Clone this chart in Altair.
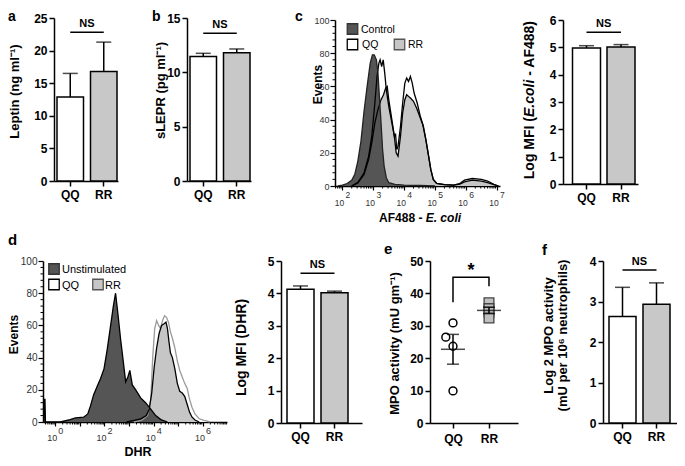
import altair as alt
import numpy as np
import pandas as pd

FONT = "Liberation Sans"
GROUPS = ["QQ", "RR"]
BAR_FILL = ["#ffffff", "#c8c8c8"]
DARK = "#555555"
LIGHT = "#c6c6c6"
OFF = 8            # page margin: absolute page px -> plot px
CW, CH = 669, 450  # one shared drawing area

# ---------------- data ----------------
leptin_mean = [12.9, 16.8]
leptin_err = [3.6, 4.5]
leptin_ns = 22.8
slepr_mean = [11.45, 11.8]
slepr_err = [0.3, 0.35]
slepr_ns = 13.6
ecoli_mean = [4.98, 5.01]
ecoli_err = [0.08, 0.09]
ecoli_ns = 5.55
dhr_mean = [4.13, 4.02]
dhr_err = [0.10, 0.05]
dhr_ns = 4.62
mpo_qq = [30.9, 26.5, 23.7, 9.9]
mpo_qq_jitter = [0.0, -0.2, 0.0, 0.0]
mpo_rr = [37.1, 35.3, 34.2, 32.4]
mpo_rr_jitter = [0.0, 0.0, 0.0, 0.0]
mpo_mean = [22.75, 34.75]
mpo_sem = [4.6, 1.0]
bracket_x = [0, 0, 1, 1]
bracket_y = [37.3, 45.0, 45.0, 42.2]
mpo_log_mean = [2.63, 2.93]
mpo_log_err = [0.72, 0.53]
mpo_log_ns = 3.78

c_ctrl_L = [1.85, 2.0, 2.15, 2.3, 2.4, 2.5, 2.6, 2.7, 2.8, 2.9, 2.97, 3.03, 3.1, 3.15,
            3.2, 3.25, 3.3, 3.35, 3.42, 3.5, 3.7, 4.0, 4.5, 5.0]
c_ctrl_n = [0, 0.5, 1.5, 3.5, 7, 15, 27, 45, 60, 74, 79, 79, 76, 68,
            53, 38, 22, 12, 5, 2, 1, 0.5, 0.3, 0]
c_qq_L = [2.3, 2.5, 2.7, 2.85, 2.95, 3.05, 3.12, 3.18, 3.22, 3.27, 3.32, 3.37, 3.42, 3.5,
          3.6, 3.68, 3.72, 3.76, 3.8, 3.88, 3.95, 4.02, 4.08, 4.14, 4.2, 4.26, 4.32, 4.42,
          4.52, 4.62, 4.7, 4.78, 4.86, 4.94, 5.05, 5.3, 5.6, 5.8, 5.95, 6.2, 6.5, 6.7, 6.9, 7.05]
c_qq_n = [0, 2, 8, 18, 30, 50, 66, 74, 76, 72, 76, 68, 58, 48,
          38, 30, 31, 22, 24, 36, 50, 62, 65, 63, 66, 62, 56, 50,
          42, 36, 28, 19, 10, 4, 1.5, 0.8, 0.5, 1.5, 3.5, 4.5, 4, 3, 1, 0]
c_rr_L = [2.3, 2.5, 2.7, 2.85, 2.95, 3.05, 3.15, 3.25, 3.33, 3.4, 3.45, 3.5, 3.6, 3.68,
          3.74, 3.8, 3.88, 3.95, 4.02, 4.08, 4.14, 4.2, 4.3, 4.4, 4.5, 4.6, 4.7, 4.78,
          4.86, 4.94, 5.05, 5.3, 5.6, 5.8, 5.95, 6.2, 6.5, 6.7, 6.9, 7.05]
c_rr_n = [0, 2, 7, 16, 26, 38, 46, 52, 55, 59, 60, 52, 40, 30,
          20, 18, 30, 44, 52, 55, 54, 53, 51, 47, 42, 37, 28, 19,
          10, 4, 1.5, 0.8, 0.5, 1.2, 2.5, 3.5, 3, 2, 0.8, 0]

d_un_L = [-0.47, -0.45, -0.42, -0.4, 0.2, 0.6, 0.82, 1.15, 1.32, 1.43, 1.56, 1.7, 1.84,
          1.98, 2.11, 2.25, 2.36, 2.45, 2.54, 2.65, 2.76, 2.86, 2.95, 3.03, 3.13, 3.27,
          3.47, 3.67, 3.88, 4.08, 4.29, 4.56]
d_un_n = [0, 14, 14, 0, 0, 1.5, 2.5, 3, 5, 10, 17, 22, 27,
          33, 45, 60, 72, 80, 68, 52, 38, 25, 28, 32, 23, 20,
          15, 12, 8, 4, 1.5, 0]
d_qq_L = [3.2, 3.5, 3.75, 3.88, 3.96, 4.04, 4.12, 4.2, 4.28, 4.36, 4.44, 4.52, 4.6, 4.68,
          4.76, 4.86, 4.96, 5.06, 5.16, 5.26, 5.36, 5.46, 5.56, 5.68, 5.85, 6.05, 6.3]
d_qq_n = [0, 1, 4, 14, 40, 58, 63, 60, 58, 63, 66, 65, 62, 56,
          52, 46, 38, 32, 28, 24, 21, 14, 9, 5, 2, 1, 0]
d_rr_L = [2.9, 3.2, 3.47, 3.7, 3.82, 3.92, 4.02, 4.12, 4.22, 4.32, 4.42, 4.5, 4.56, 4.62,
          4.68, 4.76, 4.86, 4.96, 5.06, 5.16, 5.26, 5.36, 5.46, 5.56, 5.68, 5.85]
d_rr_n = [0, 1, 2, 4, 8, 18, 34, 46, 55, 60, 61, 62, 58, 50,
          43, 40, 33, 24, 19, 18, 16, 11, 6, 3, 1.2, 0]

hist_y_ticks = [0, 20, 40, 60, 80, 100]


# ---------------- helpers (geometry given in page pixels) ----------------
def text_layer(text, x, y, size=14, weight="bold", align="left", baseline="alphabetic",
               angle=0, style="normal", color="black"):
    return alt.Chart(pd.DataFrame({"t": [text]})).mark_text(
        font=FONT, fontSize=size, fontWeight=weight, fontStyle=style, align=align,
        baseline=baseline, angle=angle, color=color,
    ).encode(text="t:N", x=alt.value(x - OFF), y=alt.value(y - OFF))


def left_axis(values, x0, title=None, tx=0, ty=0, tsize=13, **kw):
    t = dict(title=None)
    if title is not None:
        t = dict(title=title, titleX=tx - x0, titleY=ty - OFF, titleAngle=270,
                 titleBaseline="bottom", titleAlign="center", titleFontSize=tsize)
    return alt.Axis(values=values, orient="left", offset=-(x0 - OFF), grid=False, **t, **kw)


def bottom_axis(yb, **kw):
    return alt.Axis(orient="bottom", offset=(yb - OFF) - CH, grid=False, title=None, **kw)


def bar_panel(means, errs, ns_y, ymax, yvals, title, x0, W, yb, yt, bw, gap, lg,
              tx, ty, tsize=13, extra=()):
    df = pd.DataFrame({"g": GROUPS, "m": means,
                       "hi": [m + e for m, e in zip(means, errs)]})
    step = bw + gap
    outer = W - 2 * bw - gap
    xs = alt.Scale(domain=GROUPS, range=[x0 - OFF, x0 - OFF + W], paddingInner=gap / step,
                   paddingOuter=outer / (2 * step), align=lg / outer)
    ys = alt.Scale(domain=[0, ymax], range=[yb - OFF, yt - OFF], nice=False)
    x_ax = bottom_axis(yb, labelAngle=0, labelFontSize=12, labelFontWeight="bold",
                       tickSize=5, labelPadding=3)
    y_ax = left_axis(yvals, x0, title, tx, ty, tsize, labelFontSize=12, format="d",
                     labelFontWeight="bold", tickSize=5, labelPadding=2)
    bars = alt.Chart(df).mark_bar(stroke="black", strokeWidth=1.5).encode(
        x=alt.X("g:N", scale=xs, axis=x_ax),
        y=alt.Y("m:Q", scale=ys, axis=y_ax),
        fill=alt.Fill("g:N", scale=alt.Scale(domain=GROUPS, range=BAR_FILL), legend=None))
    whisk = alt.Chart(df).mark_rule(color="black", strokeWidth=1.5).encode(
        x=alt.X("g:N", scale=xs), y=alt.Y("m:Q", scale=ys), y2="hi:Q")
    cap = alt.Chart(df).mark_tick(color="black", thickness=1.5, size=15,
                                  orient="horizontal").encode(
        x=alt.X("g:N", scale=xs), y=alt.Y("hi:Q", scale=ys))
    ns_df = pd.DataFrame({"g": GROUPS, "m": [ns_y, ns_y]})
    ns_line = alt.Chart(ns_df).mark_line(color="black", strokeWidth=1.5).encode(
        x=alt.X("g:N", scale=xs), y=alt.Y("m:Q", scale=ys))
    ns_txt = alt.Chart(pd.DataFrame({"g": ["QQ"], "m": [ns_y], "t": ["NS"]})).mark_text(
        font=FONT, fontSize=11, fontWeight="bold", dx=step / 2, dy=-3,
        baseline="bottom", color="black").encode(
        x=alt.X("g:N", scale=xs), y=alt.Y("m:Q", scale=ys), text="t:N")
    return alt.layer(bars, whisk, cap, ns_line, ns_txt, *extra)


def hist_panel(series, dom, x0, W, yb, yt, dec_ticks, dec_labels, base_dy, exp_dy,
               dec_size, tx, ty, ylab_size, legend, extra=()):
    xs = alt.Scale(domain=dom, range=[x0 - OFF, x0 - OFF + W], nice=False, zero=False)
    ys = alt.Scale(domain=[0, 100], range=[yb - OFF, yt - OFF], nice=False)
    x_ax = bottom_axis(yb, values=dec_ticks, labels=False, tickSize=4, tickWidth=1.2)
    y_ax = left_axis(hist_y_ticks, x0, "Events", tx, ty, 12, labelFontSize=ylab_size,
                     labelFontWeight="normal", labelColor="#333333", tickSize=5,
                     labelPadding=1, tickWidth=1.2)
    layers = []
    first = True
    for L, n, fill, stroke, sw in series:
        df = pd.DataFrame({"L": L, "n": n})
        enc = dict(x=alt.X("L:Q", scale=xs), y=alt.Y("n:Q", scale=ys))
        if first:
            enc = dict(x=alt.X("L:Q", scale=xs, axis=x_ax), y=alt.Y("n:Q", scale=ys, axis=y_ax))
        layers.append(alt.Chart(df).mark_area(color=fill, opacity=1).encode(**enc))
        first = False
    for L, n, fill, stroke, sw in series:
        df = pd.DataFrame({"L": L, "n": n})
        layers.append(alt.Chart(df).mark_line(color=stroke, strokeWidth=sw).encode(
            x=alt.X("L:Q", scale=xs), y=alt.Y("n:Q", scale=ys)))
    lo, hi = dom
    minor_x = [n + np.log10(k) for n in range(int(np.floor(lo)), int(np.ceil(hi)) + 1)
               for k in range(2, 10) if lo <= n + np.log10(k) <= hi]
    layers.append(alt.Chart(pd.DataFrame({"L": minor_x})).mark_rule(
        color="black", strokeWidth=1).encode(
        x=alt.X("L:Q", scale=xs), y=alt.value(yb - OFF), y2=alt.value(yb - OFF + 2.5)))
    minor_y = [v for v in range(0, 101, 4) if v % 20]
    layers.append(alt.Chart(pd.DataFrame({"n": minor_y})).mark_rule(
        color="black", strokeWidth=1).encode(
        y=alt.Y("n:Q", scale=ys), x=alt.value(x0 - OFF - 2.5), x2=alt.value(x0 - OFF)))
    ddf = pd.DataFrame({"L": dec_labels, "b": ["10"] * len(dec_labels),
                        "e": [str(int(v)) for v in dec_labels]})
    layers.append(alt.Chart(ddf).mark_text(
        font=FONT, fontSize=dec_size, color="#333333", baseline="alphabetic", dx=-3).encode(
        x=alt.X("L:Q", scale=xs), y=alt.value(yb - OFF + base_dy), text="b:N"))
    layers.append(alt.Chart(ddf).mark_text(
        font=FONT, fontSize=dec_size, color="#333333", baseline="alphabetic", dx=5.5).encode(
        x=alt.X("L:Q", scale=xs), y=alt.value(yb - OFF + exp_dy), text="e:N"))
    for lab, fill, stroke, sx, sy, lx, ly, size in legend:
        layers.append(alt.Chart(pd.DataFrame({"t": [lab]})).mark_square(
            size=110, fill=fill, stroke=stroke, strokeWidth=1.3, opacity=1).encode(
            x=alt.value(sx - OFF), y=alt.value(sy - OFF)))
        layers.append(text_layer(lab, lx, ly, size=size, weight="normal",
                                 baseline="middle"))
    layers.extend(extra)
    return alt.layer(*layers)


# ---------------- panels (page-pixel geometry) ----------------
panel_a = bar_panel(leptin_mean, leptin_err, leptin_ns, 25, [0, 5, 10, 15, 20, 25],
                    "Leptin (ng ml⁻¹)", 54, 64, 181, 18, 26.5, 7, 3, 21, 91,
                    extra=[text_layer("a", 8, 21, size=14)])
panel_b = bar_panel(slepr_mean, slepr_err, slepr_ns, 15, [0, 5, 10, 15],
                    "sLEPR (pg ml⁻¹)", 187, 64, 181, 18, 26.5, 7, 3, 167, 90,
                    extra=[text_layer("b", 152, 21, size=14)])

c_series = [
    (c_qq_L, c_qq_n, "#ffffff", "black", 1.3),
    (c_rr_L, c_rr_n, LIGHT, "black", 1.3),
    (c_ctrl_L, c_ctrl_n, DARK, "#222222", 1.3),
]
c_legend = [
    ("Control", DARK, "#333333", 352.5, 29, 361, 29.5, 10.5),
    ("QQ", "#ffffff", "black", 352.5, 44.5, 362, 45, 10.5),
    ("RR", LIGHT, "#555555", 399.5, 44.5, 408, 45, 10.5),
]
panel_c = hist_panel(
    c_series, [1.76, 7.1], 335, 165, 186, 20, [2, 3, 4, 5, 6, 7], [2, 3, 4, 5, 6, 7],
    19.5, 12, 8.5, 324, 84, 9, c_legend,
    extra=[
        text_layer("c", 295, 21, size=14),
        text_layer("AF488 -", 422.4, 218, size=12, align="right", baseline="middle"),
        text_layer("E. coli", 425.7, 218, size=12, align="left", baseline="middle",
                   style="italic"),
    ])
panel_cbar = bar_panel(ecoli_mean, ecoli_err, ecoli_ns, 6, [0, 1, 2, 3, 4, 5, 6],
                       None, 563, 75, 184, 20, 28, 6.5, 9.5, 0, 0,
                       extra=[
                           text_layer("Log  MFI (", 534, 117, size=14, align="right",
                                      angle=270),
                           text_layer("E.coli", 534, 117, size=14, align="left",
                                      angle=270, style="italic"),
                           text_layer("- AF488)", 534, 75.7, size=14, align="left",
                                      angle=270),
                       ])

d_series = [
    (d_qq_L, d_qq_n, "#ffffff", "#9a9a9a", 1.3),
    (d_rr_L, d_rr_n, LIGHT, "black", 1.3),
    (d_un_L, d_un_n, DARK, "black", 1.3),
]
d_legend = [
    ("Unstimulated", DARK, "#333333", 54, 269, 62, 270, 11),
    ("QQ", "#ffffff", "black", 54, 284.5, 62, 285.5, 11),
    ("RR", LIGHT, "#555555", 98, 284.5, 105, 285.5, 11),
]
panel_d = hist_panel(
    d_series, [-0.5, 6.98], 43, 184, 422, 261, [0, 1, 2, 3, 4, 5, 6], [0, 2, 4, 6],
    19, 12, 9, 20, 334, 10, d_legend,
    extra=[
        text_layer("d", 8, 245, size=15),
        text_layer("DHR", 138, 452, size=12.5, align="center", baseline="middle"),
    ])
panel_dbar = bar_panel(dhr_mean, dhr_err, dhr_ns, 5, [0, 1, 2, 3, 4, 5],
                       "Log MFI (DHR)", 281, 81, 423, 261, 27, 7, 6, 248, 347, tsize=14)


def e_panel(x0, W, yb, yt):
    xs = alt.Scale(domain=[-0.639, 1.806], range=[x0 - OFF, x0 - OFF + W],
                   nice=False, zero=False)
    ys = alt.Scale(domain=[0, 50], range=[yb - OFF, yt - OFF], nice=False)
    x_ax = bottom_axis(yb, values=[0, 1], labelExpr="datum.value == 0 ? 'QQ' : 'RR'",
                       labelFontSize=12, labelFontWeight="bold", tickSize=5, labelPadding=5)
    y_ax = left_axis([0, 10, 20, 30, 40, 50], x0, "MPO activity (mU gm⁻¹)", 401, 343, 13,
                     labelFontSize=12, labelFontWeight="bold", tickSize=5, labelPadding=2,
                     format="d")
    qq = pd.DataFrame({"x": [0 + j for j in mpo_qq_jitter], "v": mpo_qq})
    rr = pd.DataFrame({"x": [1 + j for j in mpo_rr_jitter], "v": mpo_rr})
    st = pd.DataFrame({"x": [0, 1], "v": mpo_mean,
                       "lo": [m - s for m, s in zip(mpo_mean, mpo_sem)],
                       "hi": [m + s for m, s in zip(mpo_mean, mpo_sem)]})
    X = alt.X("x:Q", scale=xs)
    base_axes = alt.Chart(qq).mark_point(opacity=0).encode(
        x=alt.X("x:Q", scale=xs, axis=x_ax), y=alt.Y("v:Q", scale=ys, axis=y_ax))
    rr_pts = alt.Chart(rr).mark_square(size=95, fill="#c0c0c0", stroke="#444444",
                                       strokeWidth=1.3, opacity=1).encode(
        x=X, y=alt.Y("v:Q", scale=ys))
    qq_pts = alt.Chart(qq).mark_point(shape="circle", size=62, filled=False,
                                      color="black", strokeWidth=1.5, opacity=1).encode(
        x=X, y=alt.Y("v:Q", scale=ys))
    sem = alt.Chart(st).mark_rule(color="black", strokeWidth=1.5).encode(
        x=X, y=alt.Y("lo:Q", scale=ys), y2="hi:Q")
    caps_lo = alt.Chart(st).mark_tick(color="black", thickness=1.5, size=12,
                                      orient="horizontal").encode(
        x=X, y=alt.Y("lo:Q", scale=ys))
    caps_hi = alt.Chart(st).mark_tick(color="black", thickness=1.5, size=12,
                                      orient="horizontal").encode(
        x=X, y=alt.Y("hi:Q", scale=ys))
    mean = alt.Chart(st).mark_tick(color="black", thickness=1.5, size=24,
                                   orient="horizontal").encode(
        x=X, y=alt.Y("v:Q", scale=ys))
    br = pd.DataFrame({"x": bracket_x, "v": bracket_y, "o": [0, 1, 2, 3]})
    bracket = alt.Chart(br).mark_line(color="black", strokeWidth=1.5).encode(
        x=X, y=alt.Y("v:Q", scale=ys), order="o:Q")
    star = alt.Chart(pd.DataFrame({"x": [0.5], "v": [bracket_y[1]], "t": ["*"]})).mark_text(
        font=FONT, fontSize=18, fontWeight="bold", baseline="alphabetic", dy=-1,
        color="black").encode(x=X, y=alt.Y("v:Q", scale=ys), text="t:N")
    return alt.layer(base_axes, rr_pts, qq_pts, sem, caps_lo, caps_hi, mean, bracket,
                     star, text_layer("e", 384, 254, size=15))


panel_e = e_panel(430, 88, 423, 261)
panel_f = bar_panel(mpo_log_mean, mpo_log_err, mpo_log_ns, 4, [0, 1, 2, 3, 4],
                    ["Log 2 MPO activity", "(mU per 10⁶ neutrophils)"], 603, 74, 423, 261,
                    27, 7, 6, 555, 335, tsize=13,
                    extra=[text_layer("f", 542, 255, size=15)])

chart = alt.layer(
    panel_a, panel_b, panel_c, panel_cbar, panel_d, panel_dbar, panel_e, panel_f
).resolve_scale(
    x="independent", y="independent"
).resolve_axis(
    x="independent", y="independent"
).properties(
    width=CW, height=CH, padding=0, background="white",
    autosize=alt.AutoSizeParams(type="none"),
).configure_view(
    stroke=None
).configure_axis(
    domainColor="black", domainWidth=1.5, tickColor="black", tickWidth=1.5,
    labelFont=FONT, titleFont=FONT, labelColor="black", titleColor="black",
    titleFontWeight="bold", grid=False, titleLineHeight=14,
)

chart.save("out.html", embed_options={"renderer": "svg", "actions": False})
